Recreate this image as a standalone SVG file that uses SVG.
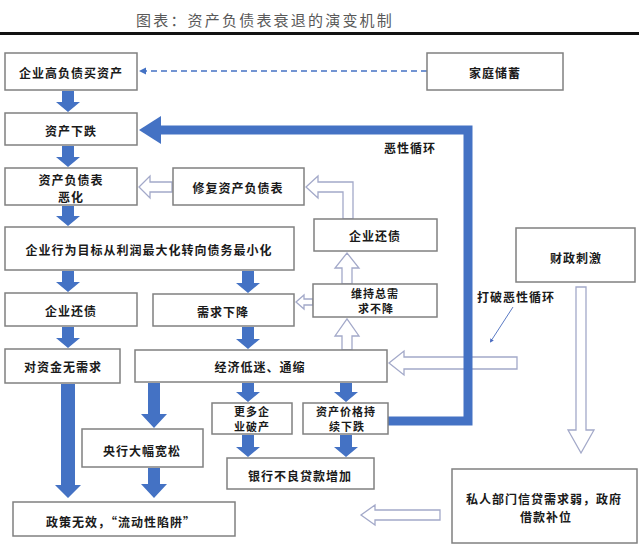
<svg xmlns="http://www.w3.org/2000/svg" width="639" height="554" viewBox="0 0 639 554">
<defs>
<style>
.box{fill:#fff;stroke:#808080;stroke-width:1.5}
.t{font-family:"Noto Sans CJK SC","Liberation Sans",sans-serif;font-size:12px;font-weight:bold;fill:#1a1a1a;text-anchor:middle;dominant-baseline:central;letter-spacing:1px}
.s{font-size:11px}
.title{font-family:"Noto Sans CJK SC","Liberation Sans",sans-serif;font-size:15px;fill:#595959;text-anchor:middle;dominant-baseline:central;letter-spacing:2.2px}
.blue{fill:#4472C4;stroke:none}
.hollow{fill:#fff;stroke:#A3A9C9;stroke-width:1.3;stroke-linejoin:miter}
</style>
<marker id="dot" viewBox="0 0 6 6" refX="3" refY="3" markerWidth="4" markerHeight="4" orient="auto">
<path d="M0 0 L6 3 L0 6 Z" fill="#4A6BC0"/>
</marker>
</defs>
<rect width="639" height="554" fill="#fff"/>
<text class="title" x="265" y="19">图表：资产负债表衰退的演变机制</text>
<rect x="0" y="32" width="639" height="3" fill="#111"/>

<g id="connectors">
<line x1="427" y1="71" x2="145" y2="71" stroke="#4472C4" stroke-width="1.3" stroke-dasharray="6,4"/>
<polygon points="139,71 146,67.5 146,74.5" fill="#4472C4"/>
<path class="blue" d="M62 91 H74 V102 H80 L68 112 L56 102 H62 Z"/>
<path class="blue" d="M62 146 H74 V157 H80 L68 167 L56 157 H62 Z"/>
<path class="blue" d="M62 206 H74 V216 H80 L68 226 L56 216 H62 Z"/>
<path class="blue" d="M62 271 H74 V282 H80 L68 292 L56 282 H62 Z"/>
<path class="blue" d="M242 271 H254 V283 H260 L248 293 L236 283 H242 Z"/>
<path class="blue" d="M62 327 H74 V338 H80 L68 348 L56 338 H62 Z"/>
<path class="blue" d="M242 327 H254 V339 H260 L248 349 L236 339 H242 Z"/>
<path class="blue" d="M61 384 H75 V485 H81 L68 498 L55 485 H61 Z"/>
<path class="blue" d="M148 383 H160 V414 H167 L154 428 L141 414 H148 Z"/>
<path class="blue" d="M148 468 H160 V484 H167 L154 498 L141 484 H148 Z"/>
<path class="blue" d="M242 383 H254 V392 H260 L248 402 L236 392 H242 Z"/>
<path class="blue" d="M340 383 H352 V392 H358 L346 402 L334 392 H340 Z"/>
<path class="blue" d="M242 435 H254 V447 H260 L248 457 L236 447 H242 Z"/>
<path class="blue" d="M340 435 H352 V447 H358 L346 457 L334 447 H340 Z"/>

<path class="hollow" d="M172 182 H150 V176 L139 187 L150 198 V192 H172 Z"/>
<path class="hollow" d="M343 219 V192 H318 V198 L306 187 L318 176 V182 H353 V219 Z"/>
<path class="hollow" d="M342 284 V268 H335 L347 253 L359 268 H352 V284 Z"/>
<path class="hollow" d="M313 299 H304 V295 L296 302 L304 309 V305 H313 Z"/>
<path class="hollow" d="M342 350 V336 H335 L347 319 L359 336 H352 V350 Z"/>
<path class="hollow" d="M517 357 H404 V351 L389 363 L404 375 V369 H517 Z"/>
<path class="hollow" d="M576 287 H586 V430 H594 L581 453 L568 430 H576 Z"/>
<path class="hollow" d="M440 510 H375 V505 L361 515 L375 525 V520 H440 Z"/>

<polyline points="388,421 468,421 468,130 158,130" fill="none" stroke="#4472C4" stroke-width="9" stroke-linejoin="miter"/>
<polygon points="139,130 161,116 161,144" fill="#4472C4"/>
<text class="t" x="410" y="147">恶性循环</text>

<line x1="513" y1="307" x2="491" y2="341" stroke="#5B7BC4" stroke-width="1" marker-end="url(#dot)"/>
<text class="t" x="516" y="296">打破恶性循环</text>
</g>

<g id="n1"><rect class="box" x="5" y="53" width="132" height="37"/><text class="t" x="71" y="72">企业高负债买资产</text></g>
<g id="n2"><rect class="box" x="427" y="53" width="136" height="37"/><text class="t" x="495" y="72">家庭储蓄</text></g>
<g id="n3"><rect class="box" x="5" y="113" width="132" height="32"/><text class="t" x="71" y="130">资产下跌</text></g>
<g id="n4"><rect class="box" x="5" y="168" width="132" height="37"/><text class="t" x="71" y="179">资产负债表</text><text class="t" x="71" y="196">恶化</text></g>
<g id="n5"><rect class="box" x="173" y="168" width="131" height="37"/><text class="t" x="238" y="187">修复资产负债表</text></g>
<g id="n6"><rect class="box" x="314" y="219" width="123" height="32"/><text class="t" x="375" y="235">企业还债</text></g>
<g id="n7"><rect class="box" x="5" y="227" width="289" height="43"/><text class="t" x="149" y="249">企业行为目标从利润最大化转向债务最小化</text></g>
<g id="n8"><rect class="box" x="5" y="293" width="132" height="33"/><text class="t" x="71" y="310">企业还债</text></g>
<g id="n9"><rect class="box" x="153" y="294" width="141" height="32"/><text class="t" x="223" y="311">需求下降</text></g>
<g id="n10"><rect class="box" x="313" y="284" width="124" height="33"/><text class="t s" x="375" y="293">维持总需</text><text class="t s" x="376" y="308">求不降</text></g>
<g id="n11"><rect class="box" x="516" y="228" width="119" height="54"/><text class="t" x="576" y="257">财政刺激</text></g>
<g id="n12"><rect class="box" x="5" y="349" width="115" height="34"/><text class="t" x="63" y="366">对资金无需求</text></g>
<g id="n13"><rect class="box" x="135" y="350" width="252" height="32"/><text class="t" x="260" y="366">经济低迷、通缩</text></g>
<g id="n14"><rect class="box" x="212" y="403" width="80" height="31"/><text class="t s" x="252" y="411">更多企</text><text class="t s" x="252" y="426">业破产</text></g>
<g id="n15"><rect class="box" x="303" y="403" width="85" height="31"/><text class="t s" x="346" y="411">资产价格持</text><text class="t s" x="347" y="426">续下跌</text></g>
<g id="n16"><rect class="box" x="82" y="429" width="121" height="38"/><text class="t" x="142" y="450">央行大幅宽松</text></g>
<g id="n17"><rect class="box" x="227" y="458" width="147" height="31"/><text class="t" x="300" y="475">银行不良贷款增加</text></g>
<g id="n18"><rect class="box" x="13" y="502" width="222" height="34"/><text class="t" x="121" y="521">政策无效，“流动性陷阱”</text></g>
<g id="n19"><rect class="box" x="452" y="469" width="185" height="74"/><text class="t" x="544" y="498">私人部门信贷需求弱，政府</text><text class="t" x="546" y="516">借款补位</text></g>
</svg>
